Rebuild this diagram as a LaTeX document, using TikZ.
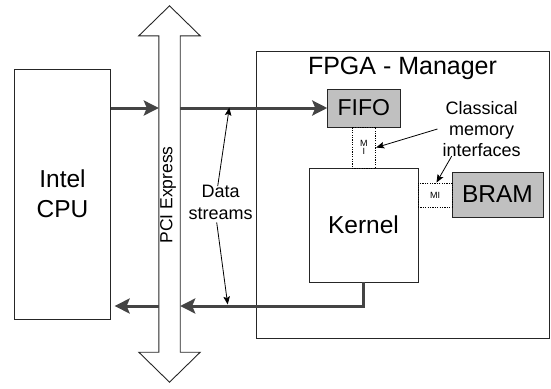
\documentclass[tikz,border=0pt]{standalone}
\usepackage{fontspec}
\setmainfont{Liberation Sans}
\usetikzlibrary{arrows.meta,calc}
\definecolor{arrowgray}{HTML}{444444}
\definecolor{boxgray}{HTML}{C0C0C0}
\definecolor{edge}{HTML}{262626}
\begin{document}
\begin{tikzpicture}[x=1pt,y=-1pt,
  box/.style={draw=edge, line width=0.9pt, inner sep=0pt, align=center},
  gbox/.style={box, fill=boxgray},
  mibox/.style={draw=black, dash pattern=on 1.2pt off 1.2pt, line width=0.9pt, inner sep=0pt, align=center,
    font=\fontsize{9}{9}\selectfont},
  busarrow/.style={draw=arrowgray, line width=3pt, -{Stealth[length=15pt,width=15pt,inset=3pt]}},
  thinarrow/.style={draw=black, line width=0.8pt, -{Stealth[length=8pt,width=6.5pt,inset=1.5pt]}},
  lbl/.style={font=\fontsize{18}{21.3}\selectfont, align=center, inner sep=4pt},
  big/.style={font=\fontsize{24.5}{30}\selectfont}]
\useasboundingbox (0,0) rectangle (551,388);

% FPGA manager frame
\node[box, minimum width=292.3pt, minimum height=287pt] (fpga) at (402.85,194.5) {};
\node[font=\fontsize{25}{30}\selectfont, inner sep=0pt] (title) at (402.5,68) {FPGA - Manager};

% CPU
\node[box, big, minimum width=96.4pt, minimum height=250pt] (cpu) at (62.5,194) {Intel\\CPU};

% PCI Express bus (double arrow)
\node[inner sep=0pt, minimum width=21pt, minimum height=316pt] (pci) at (169.5,194) {};
\draw[draw=edge, line width=0.9pt, fill=white]
  (pci.north west) -- ++(-20,0) -- ($(pci.north)+(0,-30)$) -- ($(pci.north east)+(20,0)$)
  -- (pci.north east) -- (pci.south east) -- ++(20,0) -- ($(pci.south)+(0,30)$)
  -- ($(pci.south west)+(-20,0)$) -- (pci.south west) -- cycle;
\node[rotate=90, font=\fontsize{17.5}{20}\selectfont, inner sep=0pt] (pcilbl) at ([xshift=-1.5pt,yshift=-1pt]pci.center) {PCI Express};

% FPGA contents
\node[gbox, font=\fontsize{23}{26}\selectfont, minimum width=72.3pt, minimum height=38pt] (fifo) at (363.85,108) {FIFO};
\node[box, big, minimum width=109pt, minimum height=114pt] (kernel) at (363.5,225) {Kernel};
\node[mibox, minimum width=23.7pt, minimum height=41pt] (mi1) at (363.85,147.5) {M\\[-0.5pt]I};
\node[gbox, big, minimum width=91pt, minimum height=45pt] (bram) at (497.5,194.5) {BRAM};
\node[mibox, minimum width=34pt, minimum height=24pt] (mi2) at (435,195) {MI};

% labels
\node[lbl] (ds) at (220.7,202.3) {Data\\streams};
\node[lbl] (cmi) at (481.7,129) {Classical\\memory\\interfaces};

% data stream arrows
\coordinate (busy) at (0,306);
\draw[busarrow] (cpu.east |- fifo.west) -- (pci.west |- fifo.west);
\draw[busarrow] (pci.east |- fifo.west) -- (fifo.west);
\draw[busarrow] (kernel.south) |- (pci.east |- busy);
\draw[busarrow] (pci.west |- busy) -- ([xshift=3.5pt]cpu.east |- busy);

% pointer arrows
\coordinate (dsup) at (229.3,107.5);
\coordinate (dsdn) at (227.7,304.5);
\draw[thinarrow] ([xshift=-3pt,yshift=-5pt]ds.north) -- (dsup);
\draw[thinarrow] ([xshift=-4pt,yshift=1pt]ds.south) -- (dsdn);
\draw[thinarrow] ([xshift=-1pt]cmi.west) -- (mi1.east);
\draw[thinarrow] ([xshift=-30pt,yshift=5pt]cmi.south) -- ([xshift=1.5pt]mi2.north);
\end{tikzpicture}
\end{document}
